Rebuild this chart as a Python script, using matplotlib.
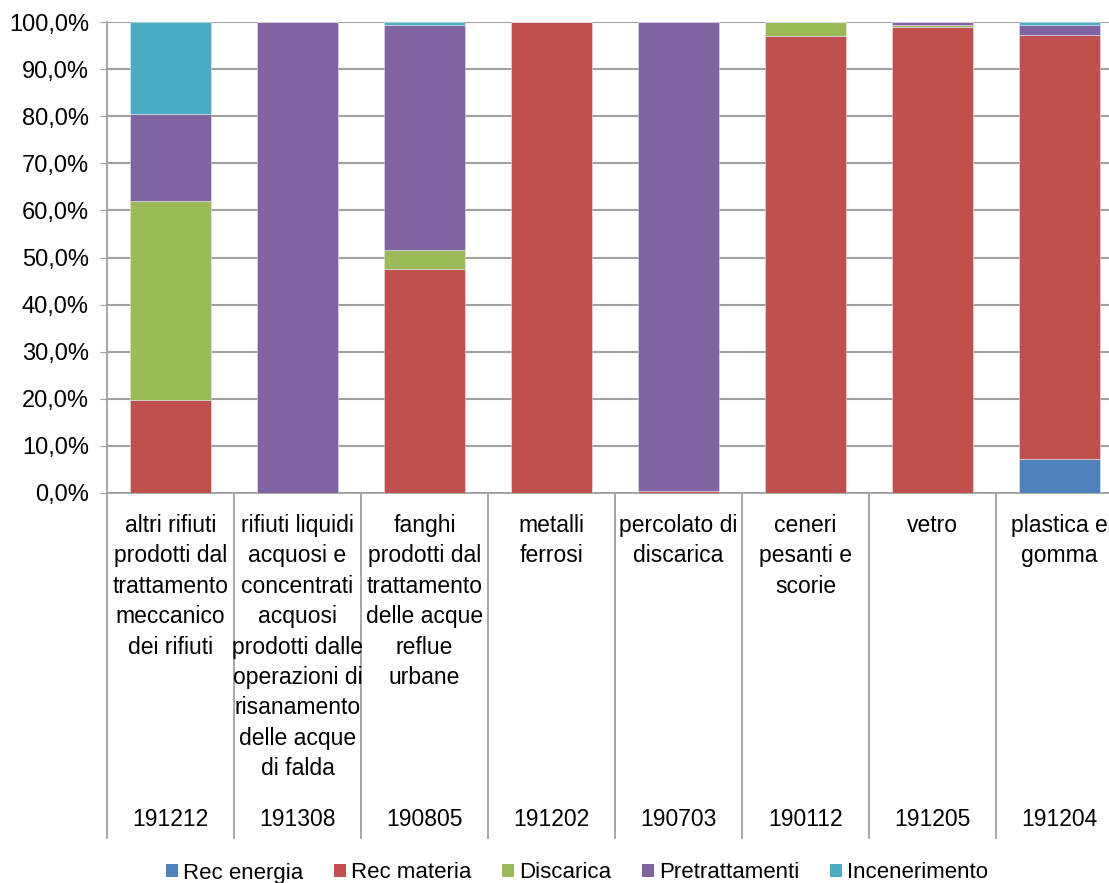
import matplotlib
matplotlib.use("Agg")
import matplotlib.pyplot as plt
from matplotlib.patches import Patch
from matplotlib.lines import Line2D
import numpy as np

plt.rcParams['font.family'] = ['Liberation Sans', 'DejaVu Sans']

codes = ["191212", "191308", "190805", "191202", "190703", "190112", "191205", "191204"]
descriptions = [
    "altri rifiuti\nprodotti dal\ntrattamento\nmeccanico\ndei rifiuti",
    "rifiuti liquidi\nacquosi e\nconcentrati\nacquosi\nprodotti dalle\noperazioni di\nrisanamento\ndelle acque\ndi falda",
    "fanghi\nprodotti dal\ntrattamento\ndelle acque\nreflue\nurbane",
    "metalli\nferrosi",
    "percolato di\ndiscarica",
    "ceneri\npesanti e\nscorie",
    "vetro",
    "plastica e\ngomma",
]

series_names = ["Rec energia", "Rec materia", "Discarica", "Pretrattamenti", "Incenerimento"]
rec_energia    = [0.0,  0.0,   0.0,  0.0,   0.0,  0.0,  0.0,  7.2]
rec_materia    = [19.7, 0.0,  47.6, 100.0,  0.5, 97.0, 98.9, 90.1]
discarica      = [42.3, 0.0,   4.0,  0.0,   0.0,  3.0,  0.5,  0.0]
pretrattamenti = [18.5, 100.0, 47.7, 0.0,  99.5,  0.0,  0.6,  2.1]
incenerimento  = [19.5, 0.0,   0.7,  0.0,   0.0,  0.0,  0.0,  0.6]
colors = ["#4F81BD", "#C0504D", "#9BBB59", "#8064A2", "#4BACC6"]

W, H = 1109, 883
fig = plt.figure(figsize=(W / 100, H / 100), dpi=100)
ax_left, ax_right, ax_top, ax_bottom = 107, 1123, 22, 493
ax = fig.add_axes([ax_left / W, 1 - ax_bottom / H, (ax_right - ax_left) / W, (ax_bottom - ax_top) / H])

x = np.arange(len(codes))
bottom = np.zeros(len(codes))
for name, vals, col in zip(series_names,
                           [rec_energia, rec_materia, discarica, pretrattamenti, incenerimento],
                           colors):
    vals = np.array(vals)
    ax.bar(x, vals, width=0.645, bottom=bottom, color=col, edgecolor="#e6e0ea",
           linewidth=0.4, zorder=3, label=name)
    bottom += vals

ax.set_xlim(-0.5, len(codes) - 0.5)
ax.set_ylim(0, 100)
ax.set_yticks(np.arange(0, 101, 10))
ax.set_yticklabels([f"{v:.1f}%".replace(".", ",") for v in np.arange(0, 101, 10)], fontsize=17)
ax.yaxis.grid(True, color="#a0a0a0", linewidth=1.5, zorder=0)
ax.set_axisbelow(True)
ax.tick_params(axis="y", length=5, color="#a0a0a0", pad=8)
ax.set_xticks([])
for side in ["top", "right"]:
    ax.spines[side].set_visible(False)
for side in ["left", "bottom"]:
    ax.spines[side].set_color("#a0a0a0")
    ax.spines[side].set_linewidth(1.3)

# Category separators running down through the label area
sep_bottom = -(838 - ax_bottom) / (ax_bottom - ax_top) * 100
for b in np.arange(-0.5, len(codes), 1.0):
    ax.add_line(Line2D([b, b], [0, sep_bottom], color="#a0a0a0", linewidth=1.3,
                       clip_on=False, zorder=1))

# Two-level category labels
desc_y = -(514 - ax_bottom) / (ax_bottom - ax_top) * 100
code_y = -(820 - ax_bottom) / (ax_bottom - ax_top) * 100
for xi, d, c in zip(x, descriptions, codes):
    ax.text(xi, desc_y, d, ha="center", va="top", fontsize=16.5, linespacing=1.41,
            clip_on=False)
    ax.text(xi, code_y, c, ha="center", va="center", fontsize=16.5, clip_on=False)

handles = [Patch(facecolor=c, edgecolor="none") for c in colors]
fig.legend(handles, series_names, loc="center", bbox_to_anchor=(577 / W, 1 - 873 / H),
           ncol=5, frameon=False, fontsize=16, handlelength=0.55, handleheight=0.55,
           handletextpad=0.25, columnspacing=1.35, borderpad=0)

fig.savefig("out.png", dpi=100)
